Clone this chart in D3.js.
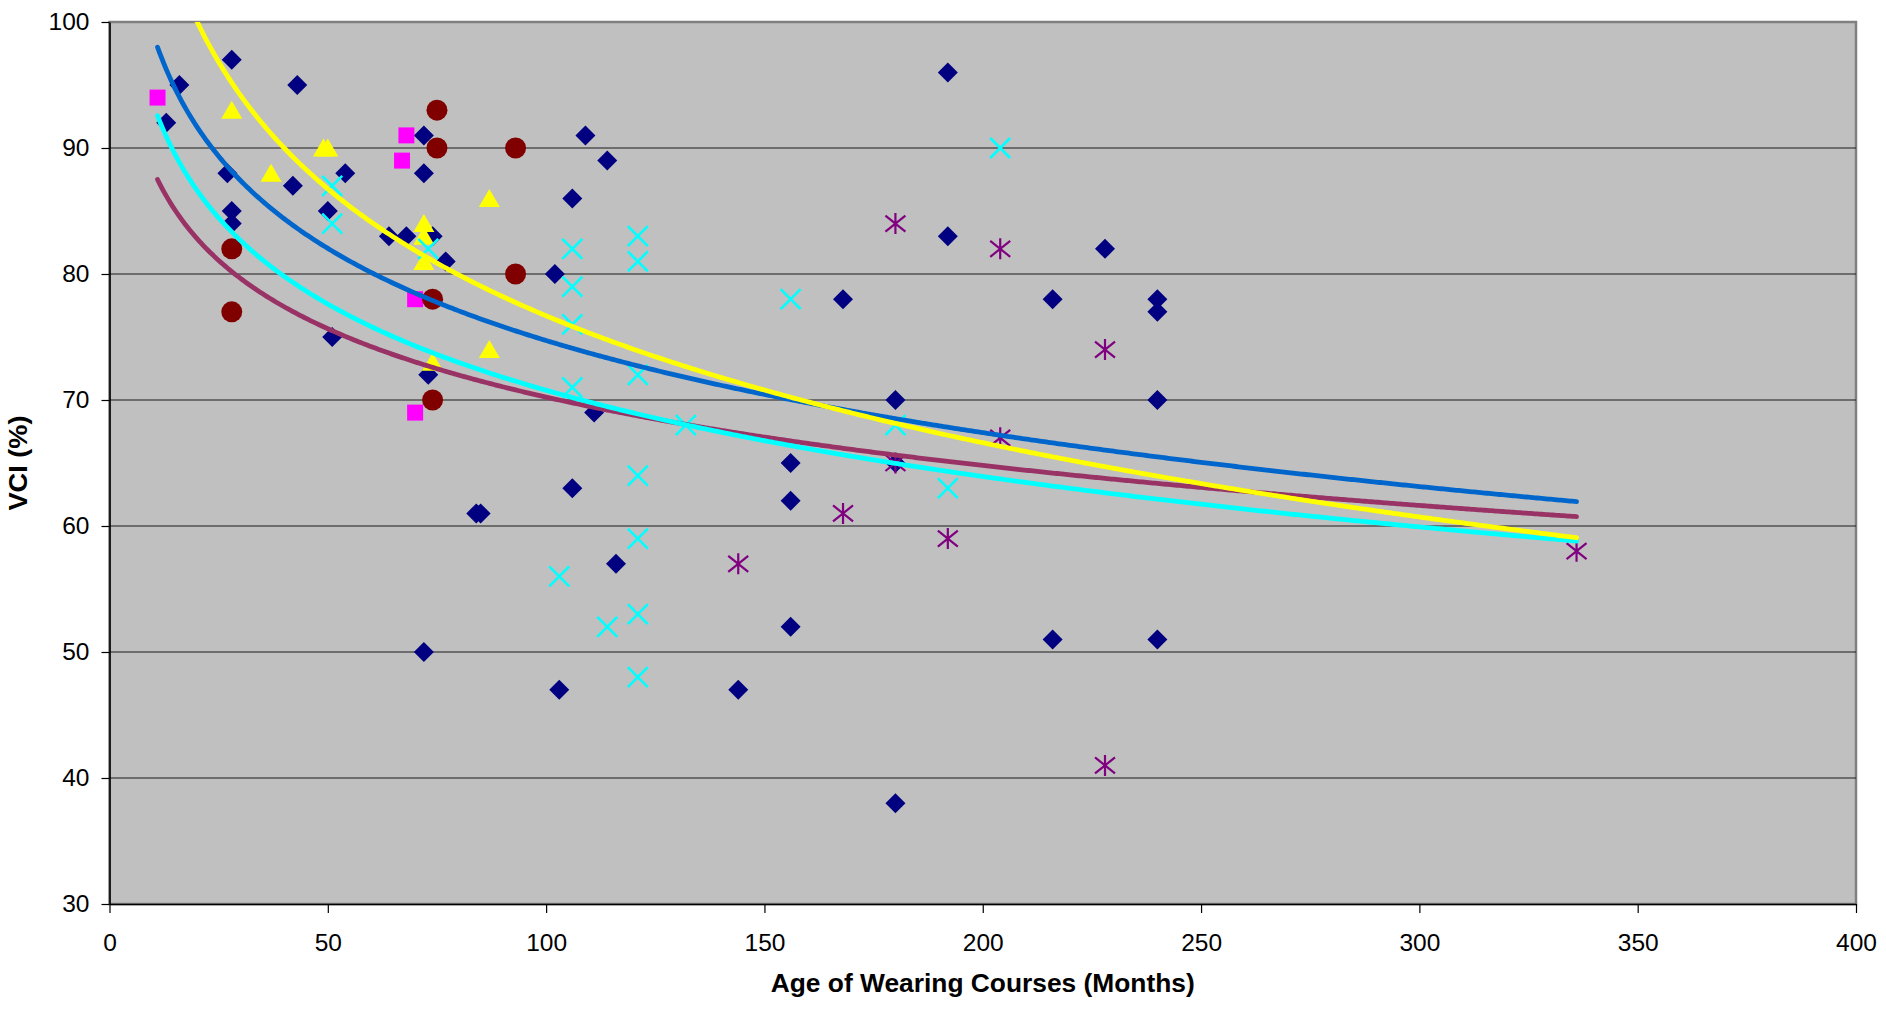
<!DOCTYPE html>
<html>
<head>
<meta charset="utf-8">
<script src="https://cdn.jsdelivr.net/npm/d3@7"></script>
<style>
  html, body { margin: 0; padding: 0; background: #ffffff; }
  svg { display: block; font-family: Arial, "Liberation Sans", sans-serif; }
</style>
</head>
<body>
<svg id="chart" width="1886" height="1012"></svg>
<script>
// values: [age in months, VCI %]
var diamondPoints = [
    [13, 92], [16, 95], [27, 88], [28, 97], [28, 85], [28, 84], [42, 87], [43, 95],
    [50, 85], [51, 75], [54, 88], [64, 83], [68, 83], [72, 91], [72, 88], [72, 50],
    [73, 72], [74, 83], [77, 81], [84, 61], [85, 61], [102, 80], [103, 47], [106, 86],
    [106, 63], [109, 91], [111, 69], [114, 89], [116, 57], [144, 47], [156, 65], [156, 62],
    [156, 52], [168, 78], [180, 70], [180, 65], [180, 38], [192, 96], [192, 83], [216, 78],
    [216, 51], [228, 82], [240, 78], [240, 77], [240, 70], [240, 51]
];
var squarePoints = [[11, 94], [67, 89], [68, 91], [70, 78], [70, 69]];
var trianglePoints = [
    [28, 93], [37, 88], [49, 90], [50, 90], [72, 84], [72, 83], [72, 81], [74, 73],
    [87, 86], [87, 74]
];
var circlePoints = [[28, 82], [28, 77], [74, 78], [74, 70], [75, 93], [75, 90], [93, 90], [93, 80]];
var crossPoints = [
    [51, 87], [51, 84], [73, 82], [103, 56], [106, 82], [106, 79], [106, 76], [106, 71],
    [114, 52], [121, 83], [121, 81], [121, 72], [121, 64], [121, 59], [121, 53], [121, 48],
    [132, 68], [156, 78], [180, 68], [192, 63], [204, 90]
];
var starPoints = [
    [144, 57], [168, 61], [180, 84], [180, 65], [192, 59], [204, 82], [204, 67], [228, 74],
    [228, 41], [336, 58]
];

var trendNames = ["blue", "purple", "cyan", "yellow"];
var trendA = [123.30, 106.27, 116.23, 143.61];
var trendB = [-10.549, -7.826, -9.871, -14.533];
var trendFrom = 11;
var trendTo = 336;

var xTicks = [0, 50, 100, 150, 200, 250, 300, 350, 400];
var yTicks = [30, 40, 50, 60, 70, 80, 90, 100];

var W = 1886, H = 1012;
var margin = { left: 109.5, top: 22, right: 30, bottom: 108 };
var pw = W - margin.left - margin.right;
var ph = H - margin.top - margin.bottom;

var x = d3.scaleLinear().domain([0, 400]).range([0, pw]);
var y = d3.scaleLinear().domain([30, 100]).range([ph, 0]);

var svg = d3.select("#chart");
svg.append("defs").append("clipPath").attr("id", "plotClip")
    .append("rect").attr("width", pw).attr("height", ph);

var g = svg.append("g").attr("transform", "translate(" + margin.left + "," + margin.top + ")");

// plot background with its grey frame
g.append("rect")
    .attr("width", pw).attr("height", ph)
    .attr("fill", "#c0c0c0")
    .attr("stroke", "#808080").attr("stroke-width", 2.5);

// horizontal gridlines
g.selectAll(".grid")
    .data(yTicks.slice(1, -1))
    .enter().append("line")
    .attr("x1", 0).attr("x2", pw)
    .attr("y1", function (d) { return y(d); })
    .attr("y2", function (d) { return y(d); })
    .attr("stroke", "#1a1a1a").attr("stroke-width", 1.2);

// axes
var yAxis = g.append("g")
    .call(d3.axisLeft(y).tickValues(yTicks).tickSize(8).tickSizeOuter(0).tickPadding(12));
var xAxis = g.append("g").attr("transform", "translate(0," + ph + ")")
    .call(d3.axisBottom(x).tickValues(xTicks).tickSize(9).tickSizeOuter(0).tickPadding(21));

[xAxis, yAxis].forEach(function (ax) {
    ax.select(".domain").attr("stroke", "#000").attr("stroke-width", 1.6);
    ax.selectAll(".tick line").attr("stroke", "#000").attr("stroke-width", 1.2);
    ax.selectAll(".tick text")
        .attr("fill", "#000")
        .attr("font-size", "24.5px")
        .attr("font-family", "Arial, 'Liberation Sans', sans-serif");
});

// markers
var markerShapes = {
    diamond: "M0,-10L10,0L0,10L-10,0Z",
    square: "M-8,-8H8V8H-8Z",
    triangle: "M0,-9.5L10.5,8.5L-10.5,8.5Z",
    cross: "M-10,-10L10,10M-10,10L10,-10",
    star: "M-10,-8L10,8M-10,8L10,-8M0,-10.5L0,10.5"
};

var drawSeries = function (points, shape, color, filled, width) {
    var sel = g.append("g").selectAll("path")
        .data(points)
        .enter();
    if (shape === "circle") {
        sel.append("circle")
            .attr("cx", function (d) { return x(d[0]); })
            .attr("cy", function (d) { return y(d[1]); })
            .attr("r", 10.5)
            .attr("fill", color);
        return;
    }
    sel.append("path")
        .attr("d", markerShapes[shape])
        .attr("transform", function (d) { return "translate(" + x(d[0]) + "," + y(d[1]) + ")"; })
        .attr("fill", filled ? color : "none")
        .attr("stroke", filled ? "none" : color)
        .attr("stroke-width", width || 0);
};

drawSeries(diamondPoints, "diamond", "#000080", true);
drawSeries(squarePoints, "square", "#ff00ff", true);
drawSeries(trianglePoints, "triangle", "#ffff00", true);
drawSeries(circlePoints, "circle", "#800000", true);
drawSeries(crossPoints, "cross", "#00ffff", false, 2.6);
drawSeries(starPoints, "star", "#800080", false, 2.2);

// trendlines
var trendColors = { blue: "#0066cc", purple: "#993366", cyan: "#00ffff", yellow: "#ffff00" };
var line = d3.line()
    .x(function (d) { return x(d[0]); })
    .y(function (d) { return y(d[1]); });

var trendG = g.append("g").attr("clip-path", "url(#plotClip)");
trendNames.forEach(function (name, i) {
    var pts = d3.range(trendFrom, trendTo, 0.5).concat([trendTo]).map(function (t) {
        return [t, trendA[i] + trendB[i] * Math.log(t)];
    });
    trendG.append("path")
        .attr("d", line(pts))
        .attr("fill", "none")
        .attr("stroke", trendColors[name])
        .attr("stroke-width", 4.8)
        .attr("stroke-linecap", "round");
});

// axis titles (the original's bold titles run a bit wide)
svg.append("text")
    .attr("x", margin.left + pw / 2)
    .attr("y", 992)
    .attr("text-anchor", "middle")
    .attr("font-size", "25px")
    .attr("font-weight", "bold")
    .attr("textLength", 424)
    .attr("lengthAdjust", "spacingAndGlyphs")
    .text("Age of Wearing Courses (Months)");

svg.append("text")
    .attr("transform", "translate(27," + (margin.top + ph / 2) + ") rotate(-90)")
    .attr("text-anchor", "middle")
    .attr("font-size", "25px")
    .attr("font-weight", "bold")
    .attr("textLength", 95)
    .attr("lengthAdjust", "spacingAndGlyphs")
    .text("VCI (%)");
</script>
</body>
</html>
